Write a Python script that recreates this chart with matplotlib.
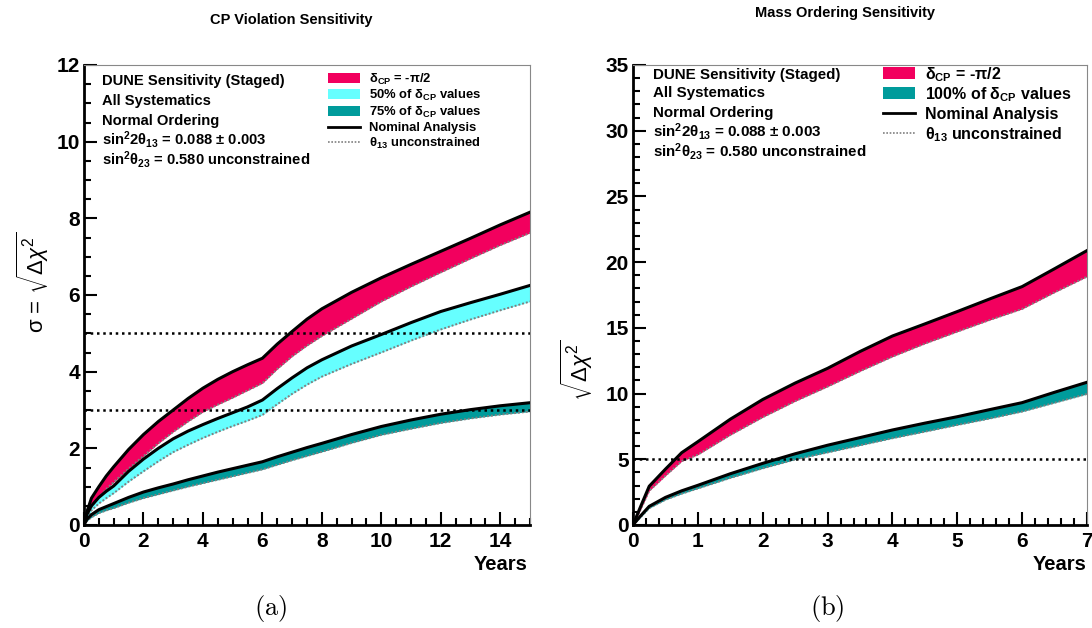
import matplotlib
matplotlib.use('Agg')
import matplotlib.pyplot as plt
from matplotlib.patches import Rectangle
from matplotlib.lines import Line2D
from matplotlib.ticker import MultipleLocator

plt.rcParams['font.family'] = ['Liberation Sans', 'DejaVu Sans']
plt.rcParams['mathtext.fontset'] = 'custom'
plt.rcParams['mathtext.rm'] = 'Liberation Sans'
plt.rcParams['mathtext.it'] = 'Liberation Sans:italic'
plt.rcParams['mathtext.bf'] = 'Liberation Sans:bold'
plt.rcParams['mathtext.sf'] = 'Liberation Sans'

# ---------------- data: CP violation sensitivity (panel a) ----------------
years_cp = [0, 0.1, 0.25, 0.5, 0.75, 1, 1.5, 2, 2.5, 3, 3.5, 4, 4.5, 5, 5.5, 6, 6.5, 7, 7.5, 8,
            9, 10, 11, 12, 13, 14, 15]
cp_max_nominal = [0, 0.35, 0.70, 1.00, 1.28, 1.52, 1.97, 2.36, 2.70, 3.00, 3.30, 3.57, 3.80, 4.00, 4.18,
                  4.35, 4.72, 5.05, 5.37, 5.64, 6.07, 6.45, 6.80, 7.14, 7.48, 7.83, 8.16]
cp_max_th13 = [0, 0.25, 0.48, 0.72, 0.94, 1.12, 1.47, 1.80, 2.13, 2.43, 2.70, 2.95, 3.14, 3.32, 3.51,
               3.70, 4.07, 4.40, 4.68, 4.93, 5.38, 5.83, 6.22, 6.59, 6.95, 7.30, 7.62]
cp_50_nominal = [0, 0.28, 0.50, 0.72, 0.88, 1.02, 1.40, 1.72, 2.00, 2.25, 2.45, 2.62, 2.78, 2.93, 3.08,
                 3.26, 3.56, 3.84, 4.10, 4.31, 4.67, 4.97, 5.28, 5.57, 5.80, 6.02, 6.25]
cp_50_th13 = [0, 0.20, 0.38, 0.56, 0.70, 0.83, 1.13, 1.40, 1.66, 1.90, 2.09, 2.27, 2.43, 2.58, 2.72,
              2.87, 3.15, 3.42, 3.66, 3.87, 4.20, 4.50, 4.81, 5.10, 5.36, 5.60, 5.83]
cp_75_nominal = [0, 0.15, 0.27, 0.40, 0.48, 0.56, 0.72, 0.86, 0.97, 1.07, 1.18, 1.28, 1.38, 1.47, 1.56,
                 1.65, 1.78, 1.90, 2.02, 2.13, 2.36, 2.57, 2.74, 2.89, 3.01, 3.11, 3.19]
cp_75_th13 = [0, 0.11, 0.20, 0.31, 0.38, 0.44, 0.58, 0.70, 0.80, 0.90, 1.00, 1.09, 1.18, 1.27, 1.36,
              1.45, 1.57, 1.69, 1.80, 1.91, 2.14, 2.35, 2.51, 2.66, 2.78, 2.88, 2.96]
cp_levels = [3, 5]

# ---------------- data: mass ordering sensitivity (panel b) ----------------
years_mo = [0, 0.1, 0.25, 0.5, 0.75, 1, 1.5, 2, 2.5, 3, 3.5, 4, 4.5, 5, 5.5, 6, 6.5, 7]
mo_max_nominal = [0, 1.2, 2.95, 4.25, 5.50, 6.34, 8.05, 9.55, 10.80, 11.92, 13.20, 14.38, 15.30,
                  16.24, 17.20, 18.14, 19.50, 20.88]
mo_max_th13 = [0, 1.0, 2.60, 3.75, 4.85, 5.35, 6.85, 8.20, 9.42, 10.53, 11.70, 12.81, 13.80,
               14.71, 15.60, 16.44, 17.70, 18.90]
mo_100_nominal = [0, 0.6, 1.42, 2.10, 2.60, 3.02, 3.90, 4.69, 5.42, 6.07, 6.65, 7.23, 7.75,
                  8.24, 8.78, 9.31, 10.10, 10.86]
mo_100_th13 = [0, 0.5, 1.28, 1.92, 2.38, 2.78, 3.58, 4.31, 4.98, 5.52, 6.06, 6.60, 7.10,
               7.61, 8.10, 8.63, 9.30, 9.97]
mo_levels = [5]

RED = '#F2005E'
CYAN = '#66FFFF'
TEAL = '#009B9B'

W, H = 1092, 628
fig = plt.figure(figsize=(W / 100, H / 100), dpi=100)


def fx(X):
    return X / W


def fy(Y):
    return 1 - Y / H


axL = fig.add_axes([fx(84), fy(525), 446 / W, 460 / H])
axR = fig.add_axes([fx(633), fy(525), 454 / W, 460 / H])


def band(ax, x, lo, hi, color):
    ax.fill_between(x, lo, hi, color=color, lw=0, zorder=2)
    ax.plot(x, lo, color='#808080', lw=1.4, ls=(0, (1, 1)), zorder=3)
    ax.plot(x, hi, color='black', lw=2.2, zorder=4, solid_joinstyle='round')


band(axL, years_cp, cp_max_th13, cp_max_nominal, RED)
band(axL, years_cp, cp_50_th13, cp_50_nominal, CYAN)
band(axL, years_cp, cp_75_th13, cp_75_nominal, TEAL)
for lv in cp_levels:
    axL.axhline(lv, color='black', lw=1.8, ls=(0, (1, 1.5)), zorder=5)

band(axR, years_mo, mo_max_th13, mo_max_nominal, RED)
band(axR, years_mo, mo_100_th13, mo_100_nominal, TEAL)
for lv in mo_levels:
    axR.axhline(lv, color='black', lw=1.8, ls=(0, (1, 1.5)), zorder=5)

axL.set_xlim(0, 15)
axL.set_ylim(0, 12)
axL.xaxis.set_major_locator(MultipleLocator(2))
axL.xaxis.set_minor_locator(MultipleLocator(0.5))
axL.yaxis.set_major_locator(MultipleLocator(2))
axL.yaxis.set_minor_locator(MultipleLocator(0.5))

axR.set_xlim(0, 7)
axR.set_ylim(0, 35)
axR.xaxis.set_major_locator(MultipleLocator(1))
axR.xaxis.set_minor_locator(MultipleLocator(0.2))
axR.yaxis.set_major_locator(MultipleLocator(5))
axR.yaxis.set_minor_locator(MultipleLocator(1))

for ax in (axL, axR):
    ax.tick_params(which='both', direction='in', top=False, right=False, width=1.5, color='black')
    ax.tick_params(which='major', length=9.5)
    ax.tick_params(which='minor', length=5)
    ax.tick_params(axis='x', which='major', pad=5)
    ax.tick_params(axis='y', which='major', pad=3)
    for lab in ax.get_xticklabels() + ax.get_yticklabels():
        lab.set_fontsize(15)
        lab.set_fontweight('bold')
    for s in ('left', 'bottom'):
        ax.spines[s].set_linewidth(2)
        ax.spines[s].set_color('black')
    for s in ('top', 'right'):
        ax.spines[s].set_linewidth(0.8)
        ax.spines[s].set_color('#888888')
    ax.set_facecolor('white')

# axis titles
fig.text(fx(528), fy(565), 'Years', ha='right', va='center', fontsize=14.5, fontweight='bold')
fig.text(fx(1087), fy(565), 'Years', ha='right', va='center', fontsize=14.5, fontweight='bold')
fig.text(fx(33), fy(282), 'σ = ' + r'$\sqrt{\Delta\chi^{2}}$', rotation=90, ha='center',
         va='center', fontsize=16)
fig.text(fx(577), fy(370), r'$\sqrt{\Delta\chi^{2}}$', rotation=90, ha='center', va='center',
         fontsize=16)

# panel titles
fig.text(fx(291), fy(20), 'CP Violation Sensitivity', ha='center', va='center', fontsize=10.5,
         fontweight='bold')
fig.text(fx(845), fy(13), 'Mass Ordering Sensitivity', ha='center', va='center', fontsize=10.5,
         fontweight='bold')

# captions
fig.text(fx(271), fy(608), r'$\mathrm{(a)}$', ha='center', va='center', fontsize=19, math_fontfamily='cm')
fig.text(fx(827), fy(608), r'$\mathrm{(b)}$', ha='center', va='center', fontsize=19, math_fontfamily='cm')

# info text blocks
info = ['DUNE Sensitivity (Staged)', 'All Systematics', 'Normal Ordering',
        r'sin$\mathbf{^{2}}$2$\mathbf{\theta_{13}}$ = 0.088 ± 0.003',
        r'sin$\mathbf{^{2}\theta_{23}}$ = 0.580 unconstrained']


def info_block(X, baselines, size):
    for t, b in zip(info, baselines):
        fig.text(fx(X), fy(b), t, ha='left', va='baseline', fontsize=size, fontweight='bold')


info_block(102, [85, 105, 125, 145, 164.5], 10.6)
info_block(653, [78.5, 97.5, 117.5, 137, 156.5], 10.9)


def legend_block(rows, X0, X1, Xt, centers, size, ph):
    for (kind, val, label), c in zip(rows, centers):
        if kind == 'patch':
            fig.patches.append(Rectangle((fx(X0), fy(c + ph / 2)), (X1 - X0) / W, ph / H,
                                         transform=fig.transFigure, facecolor=val, edgecolor='none'))
        elif kind == 'solid':
            fig.lines.append(Line2D([fx(X0), fx(X1)], [fy(c), fy(c)], transform=fig.transFigure,
                                    color='black', lw=2))
        else:
            fig.lines.append(Line2D([fx(X0), fx(X1)], [fy(c), fy(c)], transform=fig.transFigure,
                                    color='#808080', lw=1.2, ls=(0, (1, 1))))
        fig.text(fx(Xt), fy(c + 0.36 * size * 1.389), label, ha='left', va='baseline', fontsize=size,
                 fontweight='bold')


rowsL = [('patch', RED, r'$\mathbf{\delta_{CP}}$ = -π/2'),
         ('patch', CYAN, r'50% of $\mathbf{\delta_{CP}}$ values'),
         ('patch', TEAL, r'75% of $\mathbf{\delta_{CP}}$ values'),
         ('solid', None, 'Nominal Analysis'),
         ('dotted', None, r'$\mathbf{\theta_{13}}$ unconstrained')]
legend_block(rowsL, 328, 360, 369, [78.3, 94.3, 110.7, 126.7, 141.7], 9.4, 10)

rowsR = [('patch', RED, r'$\mathbf{\delta_{CP}}$ = -π/2'),
         ('patch', TEAL, r'100% of $\mathbf{\delta_{CP}}$ values'),
         ('solid', None, 'Nominal Analysis'),
         ('dotted', None, r'$\mathbf{\theta_{13}}$ unconstrained')]
legend_block(rowsR, 883, 915, 925, [73.3, 93.3, 113.3, 133.3], 11.5, 12)

fig.savefig('out.png', dpi=100, facecolor='white')
